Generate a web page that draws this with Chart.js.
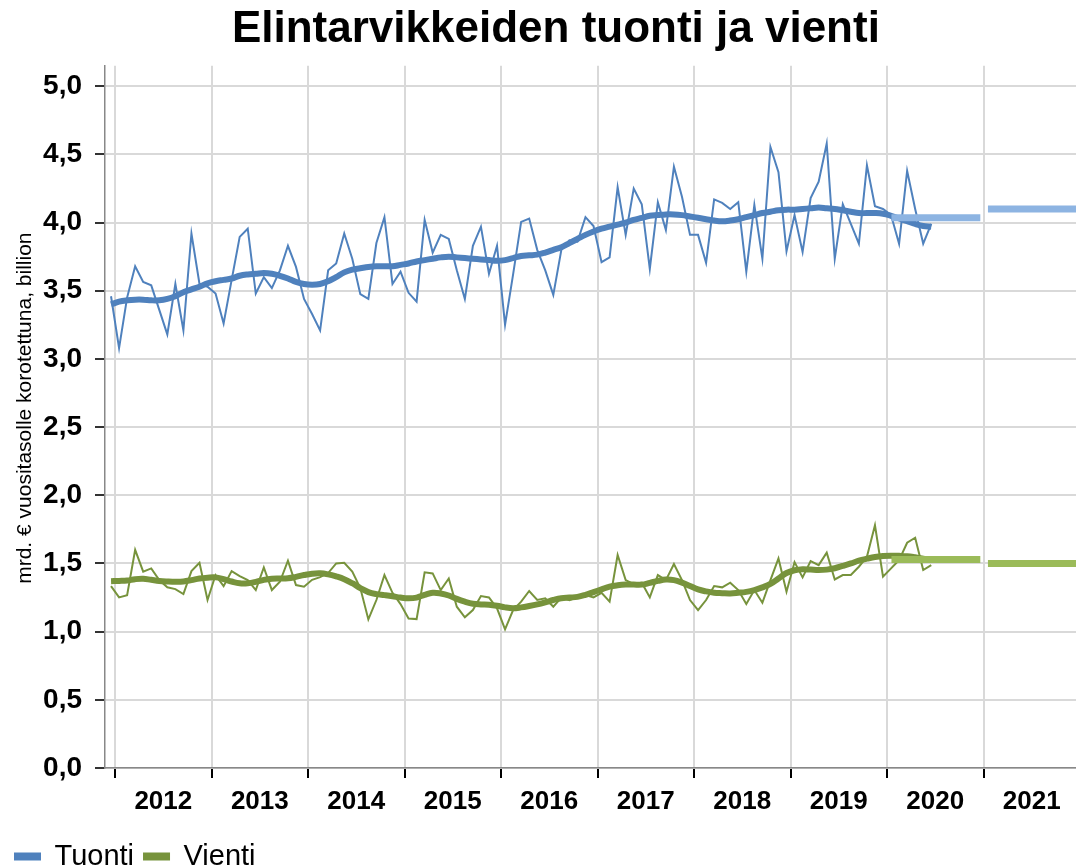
<!DOCTYPE html>
<html><head><meta charset="utf-8">
<script src="https://cdn.jsdelivr.net/npm/chart.js@4/dist/chart.umd.min.js"></script>
<style>html,body{margin:0;padding:0;overflow:hidden;background:#fff;}#wrap{width:1076px;height:881px;}</style>
</head><body><div id="wrap"><canvas id="c" width="1076" height="881"></canvas></div>
<script>
const startYear = 2012;
const yearLabels = ['2012','2013','2014','2015','2016','2017','2018','2019','2020','2021'];
const yTickValues = [0,0.5,1,1.5,2,2.5,3,3.5,4,4.5,5];

const tuontiMonthly = [3.46,3.08,3.45,3.68,3.565,3.54,3.36,3.18,3.55,3.21,3.92,3.55,
 3.53,3.48,3.26,3.58,3.895,3.955,3.48,3.60,3.52,3.65,3.83,3.675,
 3.44,3.33,3.21,3.65,3.70,3.92,3.735,3.475,3.44,3.85,4.04,3.55,
 3.64,3.485,3.42,4.02,3.78,3.91,3.88,3.65,3.44,3.83,3.97,3.625,
 3.83,3.25,3.62,4.005,4.03,3.80,3.65,3.47,3.80,3.87,3.86,4.04,
 3.975,3.71,3.745,4.26,3.91,4.25,4.135,3.66,4.15,3.945,4.41,4.19,
 3.91,3.91,3.705,4.17,4.145,4.10,4.15,3.64,4.13,3.735,4.555,4.37,
 3.79,4.055,3.785,4.18,4.30,4.58,3.735,4.135,3.99,3.845,4.42,4.12,
 4.10,4.055,3.845,4.38,4.10,3.845,3.99];
const tuontiTrend = [3.40,3.42,3.43,3.435,3.435,3.43,3.43,3.44,3.46,3.49,3.51,3.53,
 3.555,3.57,3.58,3.59,3.61,3.62,3.625,3.63,3.625,3.61,3.59,3.565,
 3.55,3.545,3.55,3.57,3.60,3.635,3.655,3.665,3.675,3.68,3.68,3.68,
 3.69,3.70,3.715,3.725,3.735,3.745,3.75,3.745,3.74,3.735,3.73,3.725,
 3.72,3.725,3.74,3.755,3.76,3.765,3.78,3.80,3.82,3.85,3.88,3.91,
 3.935,3.955,3.97,3.985,4.00,4.02,4.035,4.05,4.055,4.06,4.06,4.055,
 4.045,4.035,4.025,4.015,4.01,4.015,4.025,4.04,4.055,4.07,4.08,4.09,
 4.095,4.095,4.10,4.105,4.11,4.105,4.10,4.09,4.08,4.07,4.07,4.07,
 4.065,4.05,4.03,4.01,3.99,3.975,3.97];
const vientiMonthly = [1.334,1.251,1.268,1.60,1.44,1.464,1.378,1.325,1.312,1.276,1.444,1.505,
 1.232,1.415,1.334,1.444,1.408,1.378,1.305,1.471,1.305,1.366,1.52,1.342,
 1.33,1.38,1.40,1.43,1.50,1.505,1.44,1.32,1.09,1.232,1.415,1.285,
 1.202,1.097,1.092,1.435,1.427,1.305,1.39,1.183,1.105,1.158,1.261,1.251,
 1.171,1.017,1.158,1.22,1.298,1.232,1.244,1.183,1.25,1.23,1.251,1.268,
 1.251,1.285,1.22,1.562,1.378,1.349,1.359,1.251,1.415,1.378,1.496,1.378,
 1.232,1.158,1.232,1.334,1.325,1.359,1.305,1.202,1.305,1.212,1.378,1.537,
 1.293,1.51,1.398,1.518,1.488,1.579,1.383,1.415,1.415,1.476,1.549,1.78,
 1.403,1.464,1.525,1.652,1.689,1.452,1.488];
const vientiTrend = [1.37,1.372,1.375,1.385,1.388,1.38,1.372,1.368,1.366,1.368,1.378,1.39,
 1.396,1.398,1.385,1.368,1.355,1.355,1.365,1.38,1.388,1.39,1.392,1.402,
 1.415,1.425,1.428,1.42,1.405,1.385,1.355,1.32,1.29,1.275,1.268,1.26,
 1.25,1.245,1.25,1.27,1.285,1.28,1.265,1.24,1.22,1.205,1.20,1.198,
 1.19,1.178,1.172,1.178,1.188,1.20,1.215,1.232,1.245,1.25,1.255,1.27,
 1.29,1.31,1.33,1.34,1.345,1.345,1.345,1.358,1.372,1.382,1.378,1.36,
 1.335,1.31,1.295,1.285,1.282,1.28,1.285,1.292,1.305,1.325,1.35,1.39,
 1.43,1.45,1.458,1.455,1.452,1.455,1.465,1.482,1.50,1.52,1.535,1.548,
 1.555,1.557,1.556,1.553,1.545,1.535,1.525];
const forecastYears = [2020, 2021];
const tuontiForecast = [4.035, 4.10];
const vientiForecast = [1.53, 1.50];

const C_TUONTI = '#4F81BD', C_VIENTI = '#77933C', C_TUONTI_F = '#8DB4E2', C_VIENTI_F = '#9BBB59';
const FONT = "'Liberation Sans', Arial, sans-serif";
Chart.defaults.font.family = FONT;
Chart.defaults.color = '#000';

const toPts = arr => arr.map((v, i) => ({x: i - 0.5, y: v}));
const forecastPts = (year, v) => { const m = (year - startYear) * 12; return [{x: m + 0.55, y: v}, {x: m + 11.6, y: v}]; };

const datasets = [];
forecastYears.forEach((yr, k) => {
  datasets.push({label: 'f', data: forecastPts(yr, tuontiForecast[k]), borderColor: C_TUONTI_F, borderWidth: 7, borderCapStyle: 'butt', order: 0});
  datasets.push({label: 'f', data: forecastPts(yr, vientiForecast[k]), borderColor: C_VIENTI_F, borderWidth: 7, borderCapStyle: 'butt', order: 0});
});
datasets.push({label: 'Tuonti', data: toPts(tuontiMonthly), borderColor: C_TUONTI, backgroundColor: C_TUONTI, borderWidth: 2, order: 2});
datasets.push({label: 'Vienti', data: toPts(vientiMonthly), borderColor: C_VIENTI, backgroundColor: C_VIENTI, borderWidth: 2, order: 2});
datasets.push({label: 't', data: toPts(tuontiTrend), borderColor: C_TUONTI, borderWidth: 6, tension: 0.4, order: 1});
datasets.push({label: 't', data: toPts(vientiTrend), borderColor: C_VIENTI, borderWidth: 6, tension: 0.4, order: 1});

const xTickValues = [];
yearLabels.forEach((_, k) => { xTickValues.push(k * 12); xTickValues.push(k * 12 + 6); });
const isBoundary = v => v % 12 === 0;

new Chart(document.getElementById('c'), {
  type: 'line',
  data: {datasets},
  options: {
    responsive: false, animation: false, devicePixelRatio: 1,
    layout: {padding: {left: 5, right: 0, top: 0, bottom: 0}},
    elements: {point: {radius: 0}, line: {tension: 0, fill: false}},
    plugins: {
      title: {display: true, text: '\u2002\u2009Elintarvikkeiden tuonti ja vienti', color: '#000',
        font: {family: FONT, size: 44, weight: 'bold'}, padding: {top: 3, bottom: 10}},
      legend: {position: 'bottom', align: 'start',
        labels: {filter: it => it.text === 'Tuonti' || it.text === 'Vienti', boxWidth: 25, boxHeight: 6,
          padding: 10, color: '#000', font: {family: FONT, size: 29}}},
      tooltip: {enabled: false}
    },
    scales: {
      x: {type: 'linear', min: -1.25, max: 119.5,
        afterBuildTicks: s => { s.ticks = xTickValues.map(v => ({value: v})); },
        afterFit: s => { s.height = 64; },
        grid: {color: c => (c.tick && isBoundary(c.tick.value)) ? '#D9D9D9' : 'rgba(0,0,0,0)',
               lineWidth: c => (c.tick && isBoundary(c.tick.value)) ? 2 : 0,
               tickColor: c => (c.tick && isBoundary(c.tick.value)) ? '#000' : 'rgba(0,0,0,0)',
               tickLength: 10, tickWidth: 2},
        border: {color: '#888', width: 1.5},
        ticks: {autoSkip: false, maxRotation: 0, minRotation: 0, padding: 8, color: '#000',
          font: {family: FONT, size: 26, weight: 'bold'},
          callback: v => isBoundary(v) ? '' : yearLabels[Math.floor(v / 12)]}
      },
      y: {min: 0, max: 5.15,
        afterBuildTicks: s => { s.ticks = yTickValues.map(v => ({value: v})); },
        afterFit: s => { s.width = 100; },
        grid: {color: '#D9D9D9', lineWidth: 2, tickColor: '#333', tickLength: 10},
        border: {color: '#888', width: 1.5},
        ticks: {padding: 13, color: '#000', font: {family: FONT, size: 28, weight: 'bold'},
          callback: v => v.toFixed(1).replace('.', ',')},
        title: {display: true, text: '\u00A0\u00A0\u00A0mrd. € vuositasolle korotettuna, billion', color: '#000',
          font: {family: FONT, size: 21}, padding: {top: 8, bottom: 0}}
      }
    }
  }
});
</script></body></html>
